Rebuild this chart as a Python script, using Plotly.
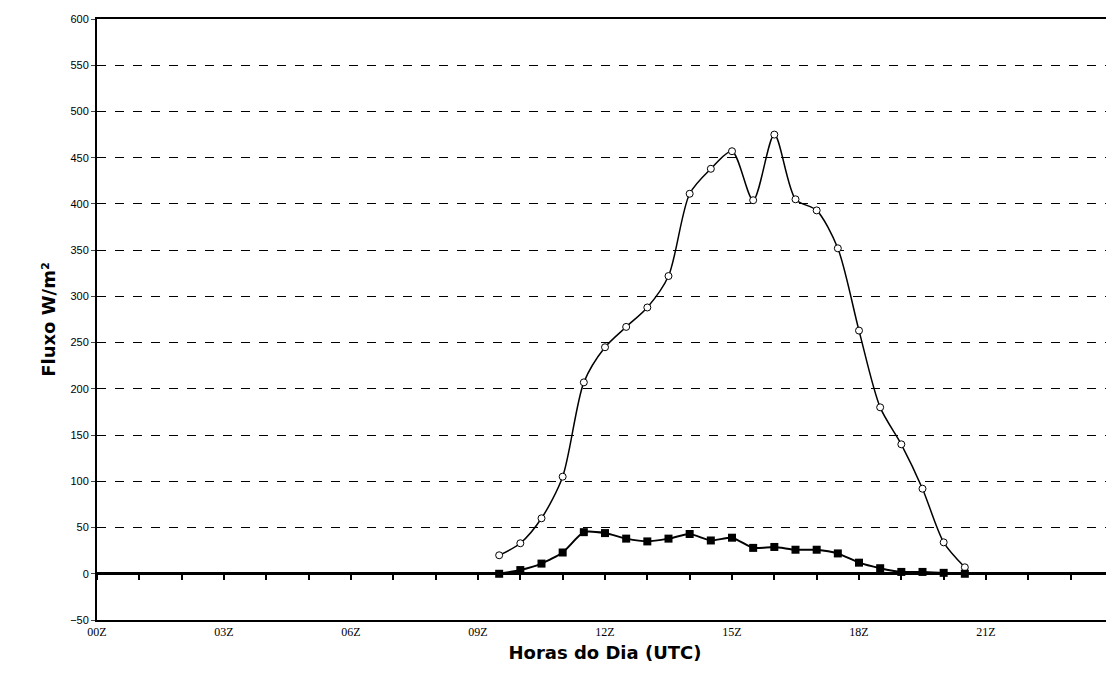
import plotly.graph_objects as go

hours = [9.5,10,10.5,11,11.5,12,12.5,13,13.5,14,14.5,15,15.5,16,16.5,17,17.5,18,18.5,19,19.5,20,20.5]
upper = [20,33,60,105,207,245,267,288,322,411,438,457,404,475,405,393,352,263,180,140,92,34,7]
lower = [0,4,11,23,45,44,38,35,38,43,36,39,28,29,26,26,22,12,6,2,2,1,0]
tick_vals = [0,3,6,9,12,15,18,21]
tick_text = ["00Z","03Z","06Z","09Z","12Z","15Z","18Z","21Z"]

fig = go.Figure()
fig.add_trace(go.Scatter(x=hours, y=upper, mode="lines+markers", line=dict(color="black", width=1.5, shape="spline", smoothing=0.8),
                         marker=dict(symbol="circle", size=7, color="white", line=dict(color="black", width=1))))
fig.add_trace(go.Scatter(x=hours, y=lower, mode="lines+markers", line=dict(color="black", width=2, shape="spline", smoothing=0.6),
                         marker=dict(symbol="square", size=8, color="black")))
fig.add_trace(go.Scatter(x=[0], y=[0], xaxis="x2", mode="markers", marker=dict(opacity=0), hoverinfo="skip"))

fig.update_layout(
    width=1107, height=672, showlegend=False,
    plot_bgcolor="white", paper_bgcolor="white",
    margin=dict(l=89, r=2, t=11, b=60),
    font=dict(family="DejaVu Sans", color="black"),
    xaxis=dict(range=[0,24], tickvals=tick_vals, ticktext=tick_text, showgrid=False, zeroline=False,
               showline=True, linecolor="black", linewidth=2, mirror=True, ticks="", automargin=False,
               tickfont=dict(family="Liberation Serif", size=12),
               title=dict(text="<b>Horas do Dia (UTC)</b>", font=dict(size=18), standoff=8)),
    xaxis2=dict(range=[0,24], overlaying="x", anchor="free", position=50/650, dtick=1, tick0=0,
                ticks="outside", ticklen=5, tickwidth=2, tickcolor="black", showticklabels=False,
                showgrid=False, zeroline=False, showline=False, automargin=False),
    yaxis=dict(range=[-50,600], dtick=50, showgrid=True, gridcolor="black", griddash="dash", gridwidth=1,
               zeroline=True, zerolinecolor="black", zerolinewidth=3, automargin=False,
               showline=True, linecolor="black", linewidth=2, mirror=True, ticks="outside", ticklen=4,
               tickfont=dict(family="Liberation Sans", size=11),
               title=dict(text="<b>Fluxo W/m²</b>", font=dict(size=18), standoff=10)),
)
fig.write_html("out.html")
